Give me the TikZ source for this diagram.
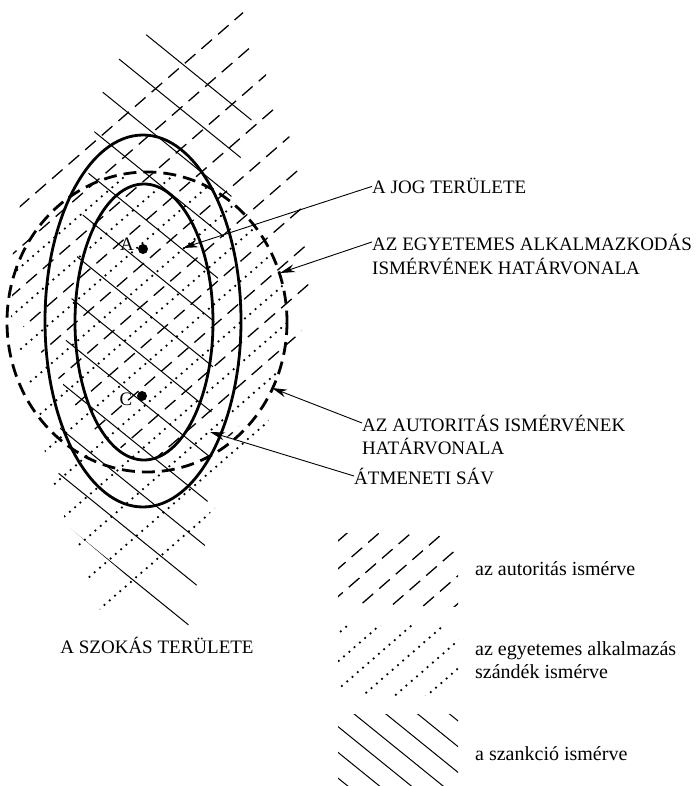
\documentclass[tikz,border=0pt]{standalone}
\usepackage{fontspec}
\setmainfont{Liberation Serif}
\usetikzlibrary{arrows.meta}

\begin{document}
\begin{tikzpicture}[
    x=1pt, y=-1pt,
    rim/.style={line width=2.8pt},
    rimdash/.style={line width=2.8pt, dash pattern=on 13pt off 7pt},
    authline/.style={line width=1.3pt, dash pattern=on 14pt off 8pt},
    applline/.style={line width=2.5pt, line cap=round, dash pattern=on 0pt off 7pt},
    sancline/.style={line width=1pt},
    pointer/.style={line width=0.9pt, -{Stealth[length=15pt,width=8pt]}},
    dot/.style={circle, fill, inner sep=0pt, minimum size=10pt},
    caps/.style={font=\fontsize{19}{23}\selectfont, inner sep=0pt, anchor=base west},
    keytext/.style={font=\fontsize{20}{24}\selectfont, inner sep=0pt, anchor=base west}
  ]
  \useasboundingbox (0,0) rectangle (700,786);

  % autoritas: dashed hatch
  \begin{scope}
    \clip (20,205) -- (242,10) -- (300,165) -- (315,310) -- (233,435) -- (143,462)
      -- (90,428) -- (48,362) -- (12,310) -- (12,260) -- cycle;
    \foreach \c in {169,200,...,479}
      \draw[authline] ({0.6561*\c-905.64},{0.7547*\c+787.32}) -- ({0.6561*\c+905.64},{0.7547*\c-787.32});
  \end{scope}

  % egyetemes alkalmazas: dotted hatch
  \begin{scope}
    \clip (7,322) arc[start angle=180, end angle=360, x radius=140, y radius=150]
      -- (262,455) -- (107,628) -- (57,498) -- (40,433) -- (7,300) -- cycle;
    \foreach \c in {184,215,...,525}
      \draw[applline] ({0.6561*\c-905.64},{0.7547*\c+787.32}) -- ({0.6561*\c+905.64},{0.7547*\c-787.32});
  \end{scope}

  % szankcio: solid hatch
  \begin{scope}
    \clip (118,60) -- (148,33) -- (252,118) -- (240,160) -- (226,220) -- (215,300)
      -- (212,400) -- (206,540) -- (188,627) -- (57,517) -- (60,430) -- (66,340)
      -- (78,250) -- (93,140) -- (100,98) -- cycle;
    \foreach \c in {-65,-29,...,367}
      \draw[sancline] ({-0.6293*(\c)-932.52},{0.7771*(\c)-755.16}) -- ({-0.6293*(\c)+932.52},{0.7771*(\c)+755.16});
  \end{scope}

  % boundaries
  \draw[rim] (143,321) ellipse [x radius=98, y radius=186];
  \draw[rim] (144,322) ellipse [x radius=69, y radius=138];
  \draw[rimdash] (147,322) ellipse [x radius=140, y radius=150];

  \node[dot] (ptA) at (143,249) {};
  \node[dot] (ptC) at (142,396) {};
  \node[font=\fontsize{19}{22}\selectfont, inner sep=0pt] (labA) at (127,244) {A};
  \node[font=\fontsize{19}{22}\selectfont, inner sep=0pt] (labC) at (126,399) {C};

  % labels
  \node[caps] (jog) at (372,194) {A JOG TERÜLETE};
  \node[caps] (egyA) at (372,250) {AZ EGYETEMES ALKALMAZKODÁS};
  \node[caps] (egyB) at (372,274) {ISMÉRVÉNEK HATÁRVONALA};
  \node[caps] (autA) at (362,431) {AZ AUTORITÁS ISMÉRVÉNEK};
  \node[caps] (autB) at (362,454) {HATÁRVONALA};
  \node[caps] (atm) at (354,484) {ÁTMENETI SÁV};
  \node[caps, anchor=base] (szokas) at (157,653) {A SZOKÁS TERÜLETE};

  \coordinate (jogTip) at (183,248);
  \coordinate (egyTip) at (280,273);
  \coordinate (autTip) at (272,388);
  \coordinate (atmTip) at (210,432);
  \draw[pointer] (jog.west) -- (jogTip);
  \draw[pointer] (egyA.west) -- (egyTip);
  \draw[pointer] (autA.west) -- (autTip);
  \draw[pointer] (atm.west) -- (atmTip);

  % key
  \begin{scope}
    \clip (338,533) rectangle (458,606);
    \foreach \c in {630,651,...,756}
      \draw[authline] ({0.6561*\c-905.64},{0.7547*\c+787.32}) -- ({0.6561*\c+905.64},{0.7547*\c-787.32});
  \end{scope}
  \begin{scope}
    \clip (338,625) rectangle (458,695);
    \foreach \c in {700,721,...,826}
      \draw[applline] ({0.6561*\c-905.64},{0.7547*\c+787.32}) -- ({0.6561*\c+905.64},{0.7547*\c-787.32});
  \end{scope}
  \begin{scope}
    \clip (338,714) rectangle (458,786);
    \foreach \c in {272,292,...,392}
      \draw[sancline] ({-0.6293*(\c)-932.52},{0.7771*(\c)-755.16}) -- ({-0.6293*(\c)+932.52},{0.7771*(\c)+755.16});
  \end{scope}
  \node[keytext] (keyAut) at (475,575) {az autoritás ismérve};
  \node[keytext] (keyEgyA) at (475,655) {az egyetemes alkalmazás};
  \node[keytext] (keyEgyB) at (475,678) {szándék ismérve};
  \node[keytext] (keySan) at (475,760) {a szankció ismérve};
\end{tikzpicture}
\end{document}
